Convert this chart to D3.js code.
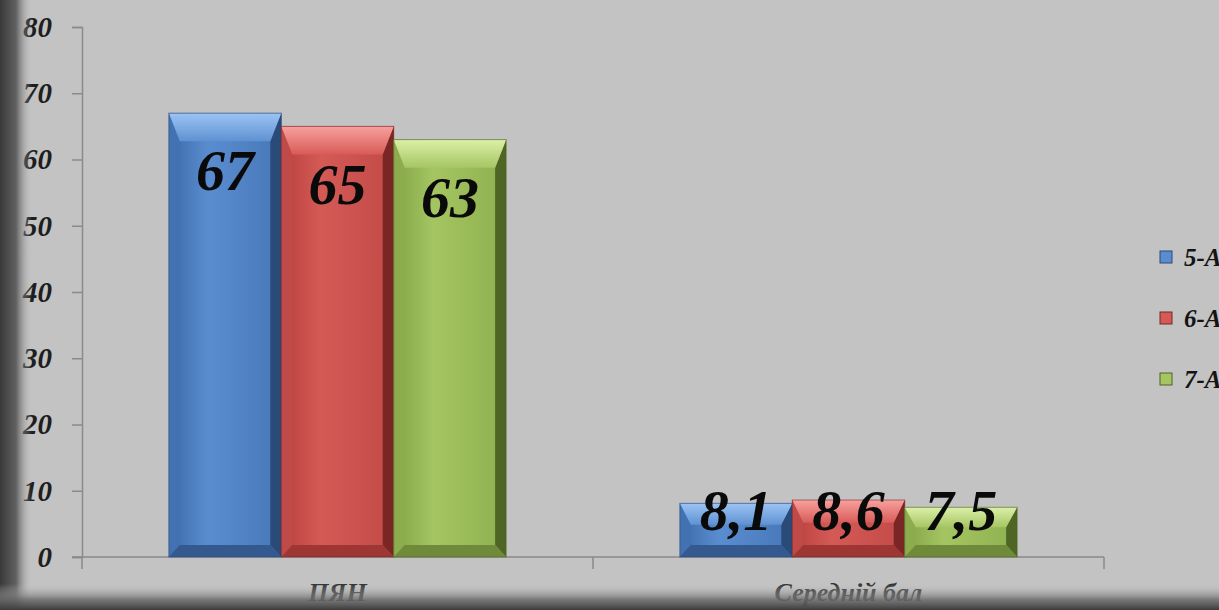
<!DOCTYPE html>
<html>
<head>
<meta charset="utf-8">
<script src="https://cdn.jsdelivr.net/npm/d3@7"></script>
<style>
	html, body { margin: 0; padding: 0; background: #c3c3c3; overflow: hidden; }
	svg { display: block; }
	.tick text { font-family: 'Liberation Serif', 'DejaVu Serif', serif; font-style: italic; font-weight: bold; }
</style>
</head>
<body>
<div id="chart"></div>
<script>
var categories = ['ПЯН', 'Середній бал'];
var series = ['5-А клас', '6-А клас', '7-А клас'];
var values = [
	[67, 65, 63],
	[8.1, 8.6, 7.5]
];
var labels = [
	['67', '65', '63'],
	['8,1', '8,6', '7,5']
];
var yTicks = [0, 10, 20, 30, 40, 50, 60, 70, 80];

var width = 1219;
var height = 610;

// colours: body, top facet, left facet, right facet, bottom facet
var palette = [
	{ body: ['#3c6aa8', '#5a8dd0', '#4677b8'], top: ['#9cc4f4', '#5f92d2'], left: '#4272b2', right: '#2a4a78', bottom: '#33598e' },
	{ body: ['#b8403d', '#d45a56', '#c24a47'], top: ['#f7a19e', '#d85c58'], left: '#bf4a47', right: '#7a2624', bottom: '#9e3634' },
	{ body: ['#84a446', '#a4c562', '#8fb04e'], top: ['#dcf0a8', '#a6c664'], left: '#8cac4e', right: '#4f6526', bottom: '#6f8a38' }
];

var svg = d3
	.select('#chart')
	.append('svg')
	.attr('width', width)
	.attr('height', height);

var defs = svg.append('defs');

palette.forEach(function(p, i) {
	var g = defs
		.append('linearGradient')
		.attr('id', 'body' + i)
		.attr('x1', 0).attr('x2', 1).attr('y1', 0).attr('y2', 0);
	g.append('stop').attr('offset', '0%').attr('stop-color', p.body[0]);
	g.append('stop').attr('offset', '35%').attr('stop-color', p.body[1]);
	g.append('stop').attr('offset', '100%').attr('stop-color', p.body[2]);

	var t = defs
		.append('linearGradient')
		.attr('id', 'top' + i)
		.attr('x1', 0).attr('x2', 0).attr('y1', 0).attr('y2', 1);
	t.append('stop').attr('offset', '0%').attr('stop-color', p.top[0]);
	t.append('stop').attr('offset', '100%').attr('stop-color', p.top[1]);
});

var lg = defs.append('linearGradient').attr('id', 'leftShade').attr('x1', 0).attr('x2', 1).attr('y1', 0).attr('y2', 0);
lg.append('stop').attr('offset', '0%').attr('stop-color', '#393939').attr('stop-opacity', 1);
lg.append('stop').attr('offset', '50%').attr('stop-color', '#555').attr('stop-opacity', 0.9);
lg.append('stop').attr('offset', '100%').attr('stop-color', '#c3c3c3').attr('stop-opacity', 0);

var bg = defs.append('linearGradient').attr('id', 'bottomShade').attr('x1', 0).attr('x2', 0).attr('y1', 0).attr('y2', 1);
bg.append('stop').attr('offset', '0%').attr('stop-color', '#c3c3c3').attr('stop-opacity', 0);
bg.append('stop').attr('offset', '60%').attr('stop-color', '#6a6a6a').attr('stop-opacity', 0.85);
bg.append('stop').attr('offset', '100%').attr('stop-color', '#3c3c3c').attr('stop-opacity', 1);

/* Scales */
var yScale = d3.scaleLinear().domain([0, 80]).range([557, 27]);

var xScale = d3
	.scaleBand()
	.domain(categories)
	.range([82, 1104])
	.paddingInner(0.34)
	.paddingOuter(0.17);

var xSub = d3.scaleBand().domain(series).range([0, xScale.bandwidth()]).padding(0);

/* Axes */
var yAxis = d3.axisLeft(yScale).tickValues(yTicks).tickSize(10).tickPadding(20);
var yG = svg.append('g').attr('transform', 'translate(82,0)').call(yAxis);
yG.select('.domain').attr('stroke', '#8a8a8a').attr('stroke-width', 1.5);
yG.selectAll('.tick line').attr('stroke', '#8a8a8a').attr('stroke-width', 1.5);
yG.selectAll('.tick text').attr('font-size', 29).attr('fill', '#1e1e1e');

var xAxis = d3.axisBottom(xScale).tickSize(0).tickPadding(26);
var xG = svg.append('g').attr('transform', 'translate(0,557)').call(xAxis);
xG.select('.domain').attr('d', 'M72,0H1104').attr('stroke', '#8a8a8a').attr('stroke-width', 1.5);
xG.selectAll('.tick text').attr('font-size', 26).attr('fill', '#333');

// category boundary ticks
var bounds = [xScale.range()[0]].concat(categories.map(function(c) {
	return xScale(c) + xScale.bandwidth() + xScale.step() * xScale.paddingInner() / 2;
}));
bounds[bounds.length - 1] = xScale.range()[1];
xG.selectAll('.bound')
	.data(bounds)
	.enter()
	.append('line')
	.attr('x1', d => d).attr('x2', d => d)
	.attr('y1', 0).attr('y2', 12)
	.attr('stroke', '#8a8a8a').attr('stroke-width', 1.5);

/* Bars */
var flat = [];
categories.forEach(function(c, ci) {
	series.forEach(function(s, si) {
		flat.push({ cat: c, ser: s, si: si, v: values[ci][si], label: labels[ci][si] });
	});
});

var bars = svg
	.append('g')
	.selectAll('.bar')
	.data(flat)
	.enter()
	.append('g')
	.attr('class', 'bar');

bars.each(function(d) {
	var g = d3.select(this);
	var p = palette[d.si];
	var x0 = xScale(d.cat) + xSub(d.ser);
	var x1 = x0 + xSub.bandwidth();
	var top = yScale(d.v);
	var bot = yScale(0);
	var h = bot - top;
	var bs = 11;
	var bt = Math.min(28, h * 0.4);
	var bb = Math.min(12, h * 0.25);
	var pt = function(arr) { return arr.map(a => a.join(',')).join(' '); };

	g.append('rect')
		.attr('x', x0).attr('y', top)
		.attr('width', x1 - x0).attr('height', h)
		.attr('fill', 'url(#body' + d.si + ')');
	g.append('polygon')
		.attr('points', pt([[x0, top], [x0 + bs, top + bt], [x0 + bs, bot - bb], [x0, bot]]))
		.attr('fill', p.left);
	g.append('polygon')
		.attr('points', pt([[x1, top], [x1 - bs, top + bt], [x1 - bs, bot - bb], [x1, bot]]))
		.attr('fill', p.right);
	g.append('polygon')
		.attr('points', pt([[x0, bot], [x0 + bs, bot - bb], [x1 - bs, bot - bb], [x1, bot]]))
		.attr('fill', p.bottom);
	g.append('polygon')
		.attr('points', pt([[x0, top], [x1, top], [x1 - bs, top + bt], [x0 + bs, top + bt]]))
		.attr('fill', 'url(#top' + d.si + ')');
	g.append('rect')
		.attr('x', x0).attr('y', top)
		.attr('width', x1 - x0).attr('height', h)
		.attr('fill', 'none').attr('stroke', p.right).attr('stroke-width', 1).attr('opacity', 0.6);
});

/* Value labels */
bars
	.append('text')
	.attr('x', d => xScale(d.cat) + xSub(d.ser) + xSub.bandwidth() / 2)
	.attr('y', d => Math.min(yScale(d.v) + 57, yScale(0) - 47))
	.attr('dy', '0.35em')
	.attr('text-anchor', 'middle')
	.attr('font-family', "'Liberation Serif', 'DejaVu Serif', serif")
	.attr('font-style', 'italic')
	.attr('font-weight', 'bold')
	.attr('font-size', 58)
	.attr('fill', '#0a0a0a')
	.text(d => d.label);

/* Legend */
var legend = svg
	.append('g')
	.selectAll('.legend')
	.data(series)
	.enter()
	.append('g')
	.attr('transform', (d, i) => `translate(1160, ${257 + i * 61})`);

legend
	.append('rect')
	.attr('x', 0).attr('y', -6)
	.attr('width', 12).attr('height', 12)
	.attr('fill', (d, i) => palette[i].body[1])
	.attr('stroke', (d, i) => palette[i].right).attr('stroke-width', 1);

legend
	.append('text')
	.attr('x', 24)
	.attr('dy', '0.35em')
	.attr('font-family', "'Liberation Serif', 'DejaVu Serif', serif")
	.attr('font-style', 'italic')
	.attr('font-weight', 'bold')
	.attr('font-size', 25)
	.attr('fill', '#141414')
	.text(d => d);

/* Dark screen edges */
svg.append('rect').attr('x', 0).attr('y', 0).attr('width', 32).attr('height', height).attr('fill', 'url(#leftShade)');
svg.append('rect').attr('x', 0).attr('y', 584).attr('width', width).attr('height', 26).attr('fill', 'url(#bottomShade)');
</script>
</body>
</html>
